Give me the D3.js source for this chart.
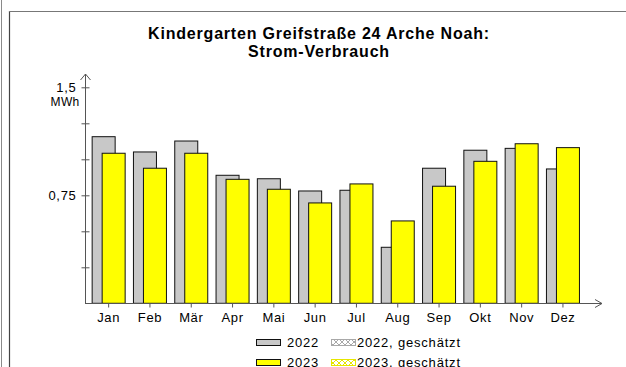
<!DOCTYPE html>
<html>
<head>
<meta charset="utf-8">
<script src="https://cdn.jsdelivr.net/npm/d3@7"></script>
<style>
  html, body { margin: 0; padding: 0; background: #fff; }
  svg { display: block; font-family: "Liberation Sans", Arial, sans-serif; }
</style>
</head>
<body>
<svg id="chart" width="626" height="367"></svg>
<script>
// Monthly electricity consumption (MWh)
const months = ["Jan", "Feb", "Mär", "Apr", "Mai", "Jun", "Jul", "Aug", "Sep", "Okt", "Nov", "Dez"];
const values2022 = [1.157, 1.051, 1.127, 0.889, 0.865, 0.780, 0.785, 0.389, 0.938, 1.063, 1.076, 0.933];
const values2023 = [1.042, 0.938, 1.042, 0.861, 0.792, 0.697, 0.829, 0.572, 0.813, 0.986, 1.108, 1.081];
const yTickValues = [0.25, 0.5, 0.75, 1.0, 1.25, 1.5];
const yTickLabels = { 0.75: "0,75", 1.5: "1,5" };
const titleLines = ["Kindergarten Greifstraße 24 Arche Noah:", "Strom-Verbrauch"];
const legendItems = [
  { label: "2022", kind: "solid", color: "#c8c8c8" },
  { label: "2022, geschätzt", kind: "hatch", color: "#a8a8a8" },
  { label: "2023", kind: "solid", color: "#ffff00" },
  { label: "2023, geschätzt", kind: "hatch", color: "#e6e600" }
];

const svg = d3.select("#chart");
const defs = svg.append("defs");

// frame lines
svg.append("line").attr("x1", 1.5).attr("x2", 1.5).attr("y1", 0).attr("y2", 367)
  .attr("stroke", "#8a8a8a").attr("stroke-width", 1);
svg.append("line").attr("x1", 9.5).attr("x2", 9.5).attr("y1", 11).attr("y2", 367)
  .attr("stroke", "#444").attr("stroke-width", 1.2);
svg.append("line").attr("x1", 9).attr("x2", 626).attr("y1", 11.5).attr("y2", 11.5)
  .attr("stroke", "#777").attr("stroke-width", 1.2);

// title
const title = svg.append("text")
  .attr("text-anchor", "middle")
  .attr("font-weight", "bold")
  .attr("font-size", 16)
  .attr("letter-spacing", 0.8)
  .attr("fill", "#000");
titleLines.forEach((t, i) => {
  title.append("tspan").attr("x", 319).attr("y", 39 + i * 18).text(t);
});

// scales
const x = d3.scaleBand().domain(months).range([88, 88 + 12 * 41.3]).padding(0);
const y = d3.scaleLinear().domain([0, 1.5]).range([303.3, 87.3]);

const axisColor = "#555";
const g = svg.append("g");

// bars
const groups = g.selectAll("g.month").data(months).join("g").attr("class", "month");
const cx = m => x(m) + x.bandwidth() / 2;
const barW = 23;

groups.append("rect")
  .attr("x", (m) => cx(m) - 16.5)
  .attr("y", (m, i) => y(values2022[i]))
  .attr("width", barW)
  .attr("height", (m, i) => y(0) - y(values2022[i]))
  .attr("fill", "#c8c8c8")
  .attr("stroke", "#111")
  .attr("stroke-width", 1);

groups.append("rect")
  .attr("x", (m) => cx(m) - 6.5)
  .attr("y", (m, i) => y(values2023[i]))
  .attr("width", barW)
  .attr("height", (m, i) => y(0) - y(values2023[i]))
  .attr("fill", "#ffff00")
  .attr("stroke", "#111")
  .attr("stroke-width", 1);

// y axis
const yAxis = d3.axisLeft(y).tickValues(yTickValues).tickSize(0).tickFormat("");
const yg = svg.append("g").attr("transform", "translate(85.5,0)").call(yAxis);
yg.select(".domain").remove();
yg.append("line").attr("x1", 0).attr("x2", 0).attr("y1", 303.5).attr("y2", 74)
  .attr("stroke", axisColor);
yg.selectAll(".tick").append("line").attr("x1", -4).attr("x2", 4)
  .attr("stroke", axisColor);
yg.selectAll(".tick").append("text")
  .attr("x", -9).attr("dy", "0.32em")
  .attr("text-anchor", "end")
  .attr("font-size", 13)
  .attr("letter-spacing", 0.7)
  .attr("fill", "#000")
  .text(d => yTickLabels[d] || "");
yg.append("text").attr("x", -6).attr("y", 106).attr("text-anchor", "end")
  .attr("font-size", 12).attr("letter-spacing", 0.3).attr("fill", "#000").text("MWh");
// arrow head
yg.append("path").attr("d", "M-5,80 L0,74 L5,80").attr("fill", "none")
  .attr("stroke", axisColor).attr("stroke-width", 1);

// x axis
const xAxis = d3.axisBottom(x).tickSize(4).tickSizeOuter(0);
const xg = svg.append("g").attr("transform", "translate(0,303.5)").call(xAxis);
xg.select(".domain").remove();
xg.append("line").attr("x1", 85).attr("x2", 602).attr("y1", 0).attr("y2", 0)
  .attr("stroke", axisColor);
xg.append("path").attr("d", "M595,-4 L602,0 L595,4").attr("fill", "none")
  .attr("stroke", axisColor);
xg.selectAll(".tick line").attr("stroke", axisColor);
xg.selectAll(".tick text")
  .attr("y", 9).attr("dy", "0.71em")
  .attr("font-size", 13)
  .attr("letter-spacing", 0.6)
  .attr("font-family", "Liberation Sans, Arial, sans-serif")
  .attr("fill", "#000");

// hatch patterns for estimated values
legendItems.filter(d => d.kind === "hatch").forEach((d, i) => {
  const p = defs.append("pattern").attr("id", "hatch" + i)
    .attr("patternUnits", "userSpaceOnUse").attr("width", 6).attr("height", 6);
  p.append("rect").attr("width", 6).attr("height", 6).attr("fill", "#fff");
  p.append("path").attr("d", "M0,0 L6,6 M6,0 L0,6").attr("stroke", d.color).attr("stroke-width", 1);
});

// legend
let hatchIdx = 0;
legendItems.forEach((d, i) => {
  const col = i % 2, row = Math.floor(i / 2);
  const sx = col === 0 ? 256 : 331;
  const tx = col === 0 ? 287 : 357;
  const sy = 339 + row * 20;
  const r = svg.append("rect").attr("x", sx + 0.5).attr("y", sy + 0.5)
    .attr("width", 24).attr("height", 6);
  if (d.kind === "solid") {
    r.attr("fill", d.color).attr("stroke", "#111");
  } else {
    r.attr("fill", `url(#hatch${hatchIdx++})`).attr("stroke", d.color);
  }
  svg.append("text").attr("x", tx).attr("y", sy + 8)
    .attr("font-size", 13).attr("letter-spacing", 0.8).attr("fill", "#000").text(d.label);
});
</script>
</body>
</html>
